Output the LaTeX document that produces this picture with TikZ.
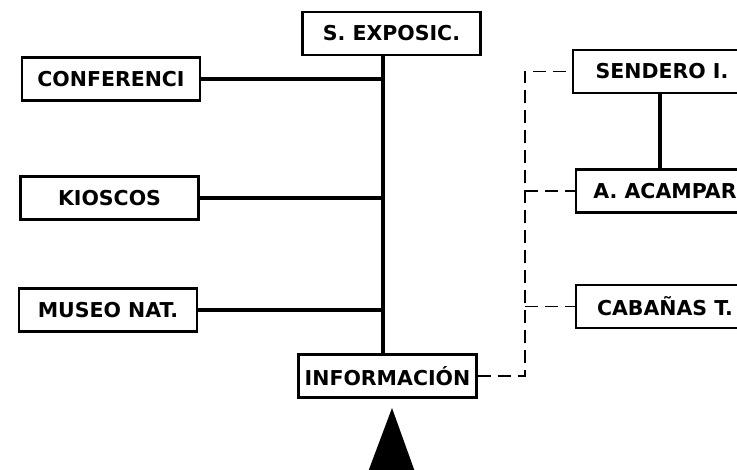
\documentclass[tikz,border=0pt]{standalone}
\usepackage{fontspec}
\newfontfamily\boxfont{DejaVu Sans}
\usetikzlibrary{calc, positioning}

\begin{document}
\begin{tikzpicture}[
    x=1pt, y=-1pt,
    area/.style={
        draw=black, line width=2.2pt, fill=white,
        minimum width=178pt, minimum height=43pt,
        inner sep=1pt, align=center,
        font=\boxfont\bfseries\fontsize{20.5}{22}\selectfont, text=black
    },
    route/.style={
        line width=3.2pt, black
    },
    trail/.style={
        line width=1.6pt, black, dash pattern=on 13pt off 7pt
    }
]
\useasboundingbox (0,0) rectangle (737,470);
\clip (0,0) rectangle (737,470);

\node[area] (expo) at (391.5,33.5) {S. EXPOSIC.};
\node[area] (conf) at (111,79) {CONFERENCI};
\node[area] (kiosk) at (109.5,198) {KIOSCOS};
\node[area] (museo) at (108,310) {MUSEO NAT.};
\node[area] (info) at (387.5,376) {INFORMACIÓN};

\node[area] (sendero) at (662,71.5) {SENDERO I.};
\node[area] (acampar) at (665,191) {A. ACAMPAR};
\node[area] (cabanas) at (665,306.5) {CABAÑAS T.};

\coordinate (spine) at (383,0);
\coordinate (path) at (525,0);

\draw[route] (expo.south -| spine) -- (info.north -| spine);
\draw[route] (conf.east) -- (conf.east -| spine);
\draw[route] (kiosk.east) -- (kiosk.east -| spine);
\draw[route] (museo.east) -- (museo.east -| spine);
\draw[route] (sendero.south -| 660,0) -- (acampar.north -| 660,0);

\draw[trail] (info.east) -- (info.east -| path) -- (path |- sendero.west) -- (sendero.west);
\draw[trail] (path |- acampar.west) -- (acampar.west);
\draw[trail] (path |- cabanas.west) -- (cabanas.west);

% entrance marker
\fill[black] (392,408) -- (415,472) -- (368,472) -- cycle;
\end{tikzpicture}
\end{document}
